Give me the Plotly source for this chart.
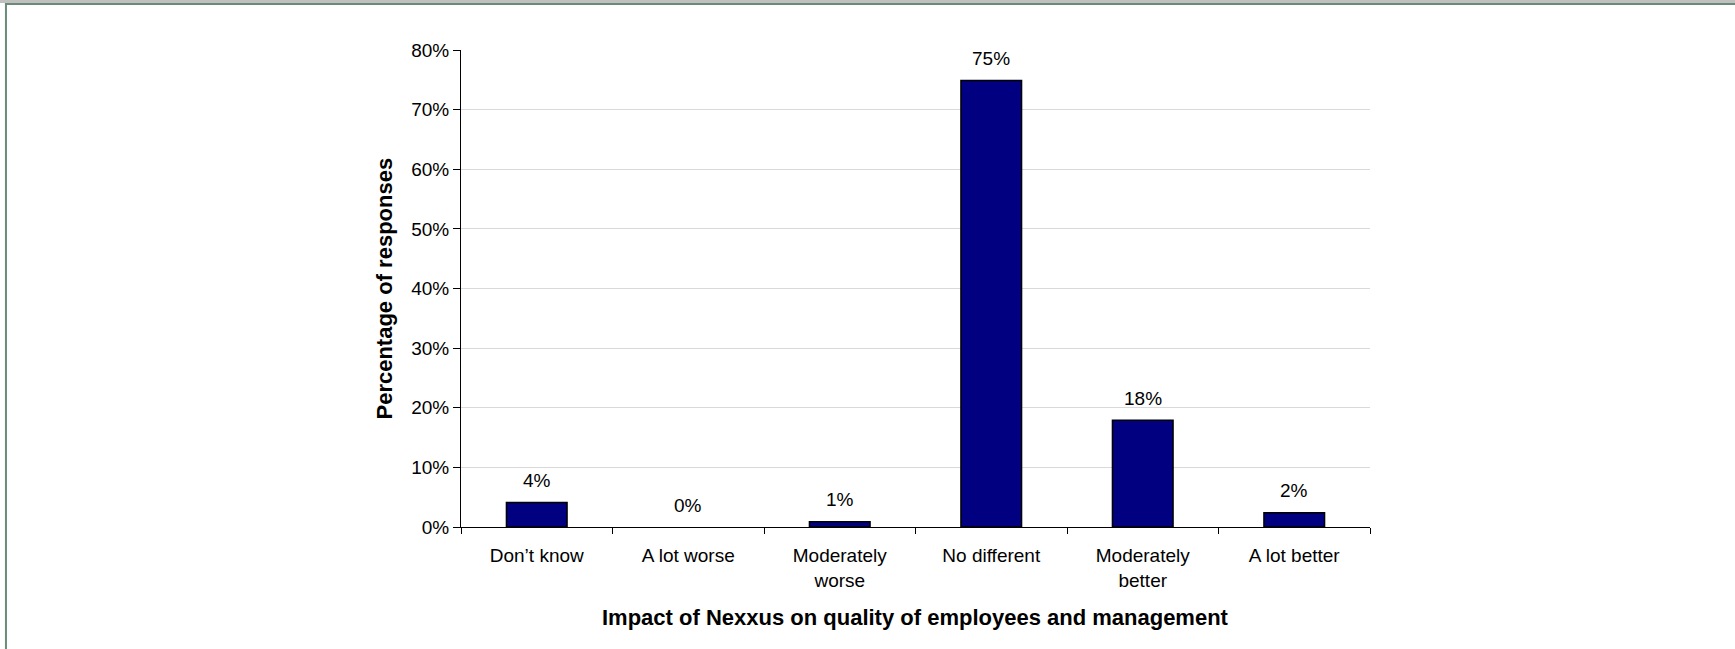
import plotly.graph_objects as go

# Survey responses: impact on quality of employees and management
categories = ["Don\u2019t know", "A lot worse", "Moderately<br>worse",
              "No different", "Moderately<br>better", "A lot better"]
percentages = [4.1, 0.0, 0.9, 74.9, 17.9, 2.4]
y_tick_values = [0, 10, 20, 30, 40, 50, 60, 70, 80]
y_tick_labels = [f"{v}%" for v in y_tick_values]

FONT = "Liberation Sans, Arial, sans-serif"
TICK_SIZE = 19
TITLE_SIZE = 22

fig = go.Figure()
fig.add_trace(go.Bar(
    x=categories,
    y=percentages,
    marker=dict(
        color="#000080",
        # empty categories get no outline
        line=dict(color="#000000",
                  width=[1.5 if v > 0 else 0 for v in percentages]),
    ),
    width=0.4,
    hoverinfo="x+y",
))

# value labels above each bar
for cat, val in zip(categories, percentages):
    fig.add_annotation(
        x=cat, y=val, text=f"{val:.0f}%", showarrow=False,
        yshift=22, font=dict(family=FONT, size=TICK_SIZE, color="#000000"),
    )

# axis titles
fig.add_annotation(
    xref="paper", yref="paper", x=0.5, y=-0.19, yanchor="middle",
    text="<b>Impact of Nexxus on quality of employees and management</b>",
    showarrow=False, font=dict(family=FONT, size=TITLE_SIZE, color="#000000"),
)
fig.add_annotation(
    xref="paper", yref="paper", x=-0.0847, y=0.5, xanchor="center",
    text="<b>Percentage of responses</b>", textangle=-90,
    showarrow=False, font=dict(family=FONT, size=TITLE_SIZE, color="#000000"),
)

# frame along the top and left edges of the page
fig.add_shape(type="rect", xref="paper", yref="paper",
              x0=-0.52, x1=1.42, y0=1.0985, y1=1.11,
              line=dict(width=0), fillcolor="#c0c0c0", layer="below")
fig.add_shape(type="rect", xref="paper", yref="paper",
              x0=-0.5017, x1=1.42, y0=1.0943, y1=1.0985,
              line=dict(width=0), fillcolor="#6b8a78", layer="below")
fig.add_shape(type="rect", xref="paper", yref="paper",
              x0=-0.5017, x1=-0.4995, y0=-0.3, y1=1.0985,
              line=dict(width=0), fillcolor="#6b8a78", layer="below")

fig.update_layout(
    width=1735, height=649,
    margin=dict(l=461, r=365, t=50, b=122),
    paper_bgcolor="#ffffff", plot_bgcolor="#ffffff",
    showlegend=False,
    font=dict(family=FONT, size=TICK_SIZE, color="#000000"),
    xaxis=dict(
        showline=True, linecolor="#000000", linewidth=1,
        ticks="outside", tickson="boundaries", ticklen=6,
        tickcolor="#000000", tickwidth=1, ticklabelstandoff=11,
        tickfont=dict(family=FONT, size=TICK_SIZE, color="#000000"),
        showgrid=False, fixedrange=True,
    ),
    yaxis=dict(
        range=[0, 80], tickvals=y_tick_values, ticktext=y_tick_labels,
        showline=True, linecolor="#000000", linewidth=1,
        ticks="outside", ticklen=7, tickcolor="#000000", tickwidth=1,
        tickfont=dict(family=FONT, size=TICK_SIZE, color="#000000"),
        showgrid=True, gridcolor="#d9d9d9", gridwidth=1,
        zeroline=False, fixedrange=True,
    ),
)

fig.write_html("out.html")
